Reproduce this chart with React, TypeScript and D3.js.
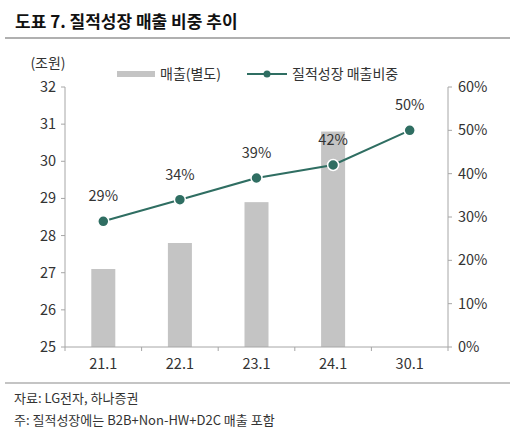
import React from 'react';
import * as d3 from 'd3';

const categories = ['21.1', '22.1', '23.1', '24.1', '30.1'];
const sales: (number | null)[] = [27.1, 27.8, 28.9, 30.8, null];
const shares = [29, 34, 39, 42, 50];
const leftTicks = [25, 26, 27, 28, 29, 30, 31, 32];
const rightTicks = [0, 10, 20, 30, 40, 50, 60];

const FONT = '"Noto Sans CJK KR", "Noto Sans", sans-serif';
const AXIS = '#a6a6a6';
const BAR = '#c4c4c4';
const LINE = '#2f6e62';
const TEXT = '#333';

const App = () => {
  const width = 514;
  const height = 438;
  const left = 65;
  const right = 448;
  const top = 87;
  const bottom = 347;

  const x = d3.scaleBand<string>().domain(categories).range([left, right]);
  const yL = d3.scaleLinear().domain([25, 32]).range([bottom, top]);
  const yR = d3.scaleLinear().domain([0, 60]).range([bottom, top]);
  const barW = 24;

  const pts = categories.map((c, i) => [x(c)! + x.bandwidth() / 2, yR(shares[i])] as [number, number]);
  const line = d3.line()(pts) || '';

  const bounds = [...categories.map(c => x(c)!), right];

  return (
    <svg width={width} height={height} style={{ position: 'absolute', left: 0, top: 0, fontFamily: FONT }}>
      <rect width={width} height={height} fill="#fff" />
      <text x={15} y={28} fontSize={17} fontWeight={700} fill="#111">도표 7. 질적성장 매출 비중 추이</text>
      <line x1={5} x2={510} y1={38} y2={38} stroke="#b0b0b0" strokeWidth={2} />

      <text x={48} y={68} fontSize={14} fill={TEXT} textAnchor="middle">(조원)</text>

      {/* legend */}
      <rect x={117} y={71} width={38} height={6} fill={BAR} />
      <text x={160} y={79} fontSize={14} fill={TEXT}>매출(별도)</text>
      <line x1={247} x2={287} y1={74} y2={74} stroke={LINE} strokeWidth={2} />
      <circle cx={267} cy={74} r={3.5} fill={LINE} />
      <text x={292} y={79} fontSize={14} fill={TEXT}>질적성장 매출비중</text>

      {/* bars */}
      {categories.map((c, i) =>
        sales[i] == null ? null : (
          <rect
            key={c}
            x={x(c)! + x.bandwidth() / 2 - barW / 2}
            y={yL(sales[i] as number)}
            width={barW}
            height={bottom - yL(sales[i] as number)}
            fill={BAR}
          />
        )
      )}

      {/* axes */}
      <line x1={left} x2={left} y1={top} y2={bottom} stroke={AXIS} />
      <line x1={right} x2={right} y1={top} y2={bottom} stroke={AXIS} />
      <line x1={left} x2={right} y1={bottom} y2={bottom} stroke={AXIS} />
      {leftTicks.map(t => (
        <g key={t}>
          <line x1={left - 4} x2={left} y1={yL(t)} y2={yL(t)} stroke={AXIS} />
          <text x={56} y={yL(t) + 5} fontSize={14.5} fill={TEXT} textAnchor="end">{t}</text>
        </g>
      ))}
      {rightTicks.map(t => (
        <g key={t}>
          <line x1={right} x2={right + 4} y1={yR(t)} y2={yR(t)} stroke={AXIS} />
          <text x={458} y={yR(t) + 5} fontSize={14.5} fill={TEXT}>{t}%</text>
        </g>
      ))}
      {bounds.map((b, i) => (
        <line key={i} x1={b} x2={b} y1={bottom} y2={bottom + 4} stroke={AXIS} />
      ))}
      {categories.map(c => (
        <text key={c} x={x(c)! + x.bandwidth() / 2} y={bottom + 22} fontSize={14.5} fill={TEXT} textAnchor="middle">{c}</text>
      ))}

      {/* share line */}
      <path d={line} fill="none" stroke={LINE} strokeWidth={2} />
      {pts.map((p, i) => (
        <g key={i}>
          <circle cx={p[0]} cy={p[1]} r={5.5} fill={LINE} stroke="#fff" strokeWidth={1.5} />
          <text x={p[0]} y={p[1] - 20} fontSize={14.5} fill={TEXT} textAnchor="middle">{shares[i]}%</text>
        </g>
      ))}

      <line x1={5} x2={510} y1={383} y2={383} stroke="#b0b0b0" strokeWidth={1.5} />
      <text x={14} y={403} fontSize={13} fill={TEXT}>자료: LG전자, 하나증권</text>
      <text x={14} y={425} fontSize={13} fill={TEXT}>주: 질적성장에는 B2B+Non-HW+D2C 매출 포함</text>
    </svg>
  );
};

export default App;
